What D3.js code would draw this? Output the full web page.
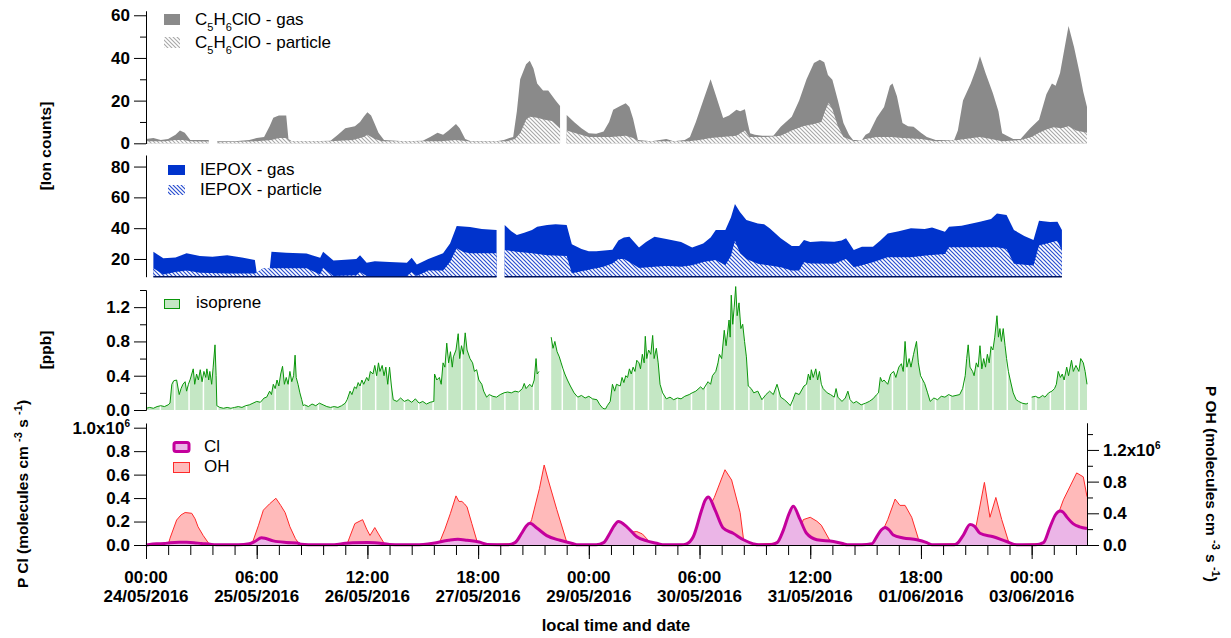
<!DOCTYPE html>
<html><head><meta charset="utf-8">
<script src="https://cdn.jsdelivr.net/npm/d3@7"></script>
<style>
body{margin:0;background:#fff;}
svg{display:block;}
text{font-family:"Liberation Sans",Arial,sans-serif;}
</style></head><body>
<svg id="chart" width="1231" height="638"></svg>
<script>
// ---------------- DATA (hours since 24/05/2016 00:00 local, value) ----------------
const xDomainHours = [0, 255];
const xTickHours = d3.range(0, 253, 6);
const xLabelHours = [0, 30, 60, 90, 120, 150, 180, 210, 240];
const xLabelTimes = ["00:00","06:00","12:00","18:00","00:00","06:00","12:00","18:00","00:00"];
const xLabelDates = ["24/05/2016","25/05/2016","26/05/2016","27/05/2016","29/05/2016","30/05/2016","31/05/2016","01/06/2016","03/06/2016"];

const c5Domain = [0, 62];
const c5Ticks = [0, 20, 40, 60];
const c5Minor = [10, 30, 50];
const c5Gas = [[0,2],[2,2.5],[4,1.5],[6,2],[8,4],[9.2,6],[10.5,5],[12,1.5],[15,1.5],[17,1.5],[18,null],[19.3,1],[24,1],[28,1.5],[30,2.5],[32,3],[33.5,8],[34.5,12],[36,13],[38,13],[38.6,2],[39.5,1],[45,1],[50,1.2],[52,4],[54,7],[56.6,8],[58,10],[59,12.5],[60,14.5],[61,13],[62,9],[63,5],[64.5,1.5],[70,1],[75,1.2],[77,3],[79,5],[80.5,4],[82,6],[84,9],[85,7],[86.5,2],[88,1],[95,1],[97,1.5],[98.5,2.5],[99.5,3],[100.5,15],[101.4,30],[103,37],[104,38.7],[105,35],[106,28],[107.6,24.8],[109,24.8],[111,20],[112.2,17.5],[113,null],[114,13.3],[116,10],[118,7],[120,4.7],[122,4.5],[124,5.5],[125.5,10],[126.6,15.7],[128.5,17.5],[130,18.8],[131,17],[132,11.5],[133.3,1.5],[137,1],[141,2],[143,1],[146,1.5],[147.4,3],[149,10],[151,20],[153,30],[154.5,22],[156.4,11.8],[158,13],[160,15.7],[161,15],[162.3,16],[163,10],[163.7,4.7],[165,4],[167,3.5],[170,3.5],[172,7.8],[175,12.5],[177,20],[179,30],[181,37.6],[182.6,39.2],[183.8,38],[184.8,32],[186,29.8],[187.5,20],[189,9.5],[190.5,4],[191.6,1.5],[194,1.5],[195,4],[196,5],[198,12],[200,17],[201.6,27],[202.3,28],[203.5,22],[205,9.5],[206.5,8],[208,7.8],[210,5],[211.6,3],[214,1.5],[219,1.5],[220,6],[221.4,20],[223.5,28],[225,35],[226,40.8],[227.5,33],[229.5,23.5],[231,15],[232,4.7],[235,2],[237,2],[238.5,5],[239.6,7],[242,11],[244,23],[245.5,28],[246.5,27],[247.7,33],[250,55],[251.5,45],[253,33],[254,24],[255,17]];
const c5Particle = [[0,1],[5,1],[8,1.5],[10,1.5],[12,1],[17,0.8],[18,null],[19.3,0.5],[30,1],[34,1.5],[36,2.5],[38,2.5],[39,1],[50,1],[56,1.5],[59,3],[60,4],[62,2],[64,1],[80,1],[84,1.5],[88,0.8],[98,1],[100,2],[101.5,5],[103,11],[104,12.5],[106,12],[108,11],[110,10.5],[112.2,7],[113,null],[114,6],[116,5],[120,3],[126,3],[130,3.5],[132,2.5],[133.5,1],[147,1],[150,1.5],[153,2.5],[156,3],[160,3.5],[162.3,6],[163.5,3],[168,3],[172,3.5],[175,6],[178,8],[181,9],[183,10],[184,15],[185,19],[186,16],[187.5,8],[189,3],[192,1],[195,2],[198,3],[202,3],[205,2.5],[210,2],[214,1],[220,1.5],[224,2.5],[226,3],[229,2],[232,1],[237,1.5],[240,3],[242,5],[244,6.5],[246,7.5],[248,7],[250,8],[252,6],[255,5]];

const iepoxDomain = [8.5, 87.5];
const iepoxTicks = [20, 40, 60, 80];
const iepoxGas = [[2,24.7],[4.7,20.4],[8,21],[11,23.7],[14.6,22],[18,21.5],[22,22.5],[26,21],[29.5,19.4],[30,11],[31.8,14],[33.5,13],[34,24.7],[38,24],[43.5,23.5],[47.2,20.8],[48,24.7],[50.8,19],[54,19.5],[57,20],[58,22.5],[59.8,17.6],[62,18.5],[66,18],[70.7,17.5],[72,20.8],[73.4,16.5],[76.5,20],[80.5,23.7],[82.4,30],[84.2,41.4],[87.8,40.7],[91,39.5],[95,38.8],[96,null],[97.2,42],[99,38],[100.5,35.6],[102.5,37],[104.6,38.8],[106,40.9],[108.7,42],[111,42.5],[114,42],[115.4,29.5],[118,26.5],[120,25],[122,25],[126.4,26],[128,32],[129.5,34],[131,34.5],[133.6,27.5],[135.5,31],[137.8,34.5],[141,33],[145,31],[148,27.5],[151,30],[153,34],[154.4,38.8],[157,38.8],[158.5,47],[159.6,55.7],[161,50.4],[162.7,45.3],[165.8,43.1],[167.5,42.5],[169,39.9],[172,33.4],[175,28.4],[177,28.4],[178.3,32.3],[180,31],[183,31.5],[186.5,31.2],[188.5,32],[189.7,33.4],[191.8,25.8],[194,28],[197,27.9],[199,32],[201,36.6],[204,38],[207.3,39.9],[211,39.5],[213,40.5],[216.5,37.7],[217.6,41],[221,41.5],[226,44.2],[229,46],[230.6,49.6],[233.2,48.5],[235.2,38.8],[238,35],[240.5,32.3],[242,44.8],[245,44],[247,44.2],[248.2,38.8]];
const iepoxParticle = [[2,14],[4.7,10],[8,11.5],[11,12.5],[14.6,11],[22,10.5],[29.5,10.5],[30,11],[31.8,14],[34,14],[38,14],[43.5,14],[47.2,10],[48,14.3],[50.8,9],[57,9.5],[58,11.5],[59.8,9],[64,9],[70.7,9],[72,11.5],[73.4,9],[76.5,12.5],[80.5,12.5],[82.4,18],[84.2,27],[86,24.5],[87.8,23.7],[95,23.7],[96,null],[97.2,25.8],[100.5,24.7],[104.6,23.8],[108.7,22.5],[114,22],[115.4,10.7],[118,12],[120,13],[124,15],[126.4,17],[128,20],[129.5,20],[131,18],[133.6,14.2],[137.8,15],[141,15.5],[145,15],[148,16],[151,18],[154.4,19.3],[157,16],[158.5,22],[159.6,31.9],[161,23.8],[162.7,20],[165.8,16.9],[169,15.8],[172,14.7],[175,12.5],[177,12.5],[178.3,17.9],[180,17],[186.5,16.9],[189.7,20],[191.8,14.7],[194,16],[197,17.9],[201,21.1],[207.3,21.1],[212,22.5],[216.5,23.3],[217.6,27.6],[226,27.6],[230.6,27.6],[233.2,26.5],[235.2,16.9],[240.5,15.8],[242,28.7],[247,31.9],[248.2,25.4]];

const isoDomain = [0, 1.4];
const isoTicks = [0, 0.4, 0.8, 1.2];
const isoMinor = [0.2, 0.6, 1.0, 1.4];
const isoprene = [[0,0.02],[1,0.03],[2,0.02],[3,0.04],[4,0.05],[5,0.04],[6,0.06],[6.5,0.08],[7,0.3],[7.5,0.34],[8.3,0.35],[9,0.18],[9.5,0.25],[10,0.3],[10.6,0.33],[11,0.22],[11.5,0.3],[12,0.36],[12.8,0.48],[13.2,0.3],[13.7,0.42],[14.2,0.35],[14.7,0.47],[15.2,0.33],[15.7,0.45],[16.2,0.38],[16.5,0.48],[17,0.35],[17.3,0.45],[17.8,0.3],[18.2,0.5],[18.7,0.76],[19,0.4],[19.2,0.05],[20,0.03],[21,0.02],[22,0.03],[23,0.02],[24,0.03],[25,0.04],[26,0.03],[27,0.05],[28,0.06],[29,0.08],[30,0.1],[31,0.09],[32,0.14],[32.7,0.15],[33.5,0.22],[34,0.18],[34.5,0.3],[35,0.25],[35.5,0.35],[36,0.28],[36.5,0.42],[37,0.51],[37.5,0.3],[38,0.38],[38.5,0.3],[39,0.45],[39.5,0.33],[40,0.4],[40.4,0.64],[40.7,0.38],[41.2,0.3],[41.7,0.2],[42.2,0.12],[42.6,0.05],[43,0.06],[44,0.04],[45,0.07],[46,0.05],[47,0.08],[48,0.06],[49,0.04],[50,0.03],[51,0.04],[52,0.03],[53,0.05],[54,0.08],[54.5,0.12],[55.3,0.22],[55.8,0.18],[56.5,0.27],[57,0.25],[57.5,0.32],[58,0.28],[58.5,0.35],[59,0.3],[59.8,0.38],[60.3,0.34],[60.8,0.45],[61.5,0.42],[62,0.52],[62.5,0.4],[63,0.55],[63.4,0.45],[64,0.52],[64.5,0.4],[65,0.5],[65.5,0.3],[66,0.5],[66.5,0.28],[67,0.12],[68,0.1],[69,0.14],[70,0.1],[71,0.12],[72,0.09],[73,0.13],[74,0.08],[75,0.1],[76,0.07],[77,0.09],[78,0.1],[78.2,0.42],[78.8,0.35],[79.5,0.38],[80,0.3],[80.5,0.55],[81,0.5],[81.5,0.78],[82,0.55],[82.5,0.68],[83,0.5],[83.3,0.62],[84,0.7],[84.6,0.89],[85,0.6],[85.5,0.75],[86,0.65],[86.5,0.9],[87,0.7],[87.8,0.6],[88.5,0.55],[89,0.45],[89.6,0.47],[90.2,0.35],[91,0.3],[91.5,0.22],[92.3,0.15],[93,0.18],[94,0.16],[95,0.15],[96,0.18],[97,0.2],[98,0.21],[99,0.2],[100,0.22],[101,0.21],[102,0.25],[102.5,0.31],[103,0.25],[104,0.3],[104.6,0.27],[105.2,0.35],[105.7,0.6],[106,0.42],[106.5,0.45],[107,null],[109.8,0.85],[110.3,0.72],[110.8,0.8],[111.4,0.68],[112,0.62],[112.5,0.55],[113,0.48],[113.5,0.42],[114.2,0.35],[115,0.28],[116,0.2],[117,0.15],[118,0.17],[119,0.14],[120,0.16],[121,0.13],[122.2,0.12],[123,0.06],[123.8,0.02],[124.5,0.01],[125,0.05],[125.8,0.1],[126.4,0.3],[127,0.22],[127.5,0.3],[128.5,0.28],[129,0.38],[129.5,0.32],[130,0.4],[130.5,0.38],[131,0.48],[131.5,0.42],[132,0.5],[132.5,0.45],[133,0.58],[133.6,0.55],[134,0.48],[134.5,0.65],[135,0.55],[135.3,0.86],[135.7,0.6],[136.2,0.7],[136.8,0.65],[137.3,0.87],[137.7,0.6],[138.3,0.72],[138.8,0.55],[139.3,0.3],[140,0.2],[141,0.13],[142,0.15],[143,0.12],[144,0.14],[145,0.13],[146,0.16],[147.2,0.18],[148,0.2],[149,0.22],[150.3,0.27],[151,0.24],[152.3,0.33],[153,0.3],[153.5,0.4],[154.4,0.45],[155,0.55],[155.4,0.65],[156,0.6],[156.7,0.93],[157.2,0.75],[158,1.05],[158.3,0.85],[158.6,1.34],[159,1.0],[159.4,1.2],[159.8,1.44],[160.2,1.1],[160.7,1.25],[161.2,0.95],[161.7,1.0],[162.2,0.8],[162.7,0.62],[163.2,0.28],[164,0.25],[164.7,0.2],[165.8,0.22],[166.9,0.12],[168,0.18],[169,0.22],[170,0.18],[171,0.3],[172,0.15],[173,0.12],[174,0.08],[174.6,0.05],[175.3,0.12],[176,0.2],[177,0.18],[178.3,0.28],[179,0.3],[179.5,0.42],[180,0.35],[180.3,0.47],[180.8,0.38],[181.5,0.48],[182,0.35],[182.5,0.45],[183,0.3],[183.5,0.25],[184.6,0.2],[185.5,0.18],[186.5,0.15],[187,0.25],[187.5,0.15],[188.6,0.1],[189.5,0.14],[190.2,0.22],[190.8,0.12],[191.7,0.08],[192.5,0.1],[193.8,0.06],[195,0.08],[196,0.1],[197,0.13],[198,0.18],[198.5,0.2],[199,0.38],[199.5,0.33],[200,0.35],[201,0.3],[201.8,0.42],[202.6,0.45],[203.2,0.38],[204,0.5],[204.7,0.54],[205.2,0.45],[205.7,0.8],[206.2,0.5],[206.8,0.6],[207.3,0.5],[208,0.65],[208.8,0.8],[209.3,0.55],[209.9,0.4],[210.5,0.35],[211,0.31],[211.8,0.2],[212.5,0.1],[213.5,0.14],[214.5,0.12],[215.5,0.16],[216.5,0.15],[217.5,0.18],[218.5,0.16],[219.5,0.17],[220.5,0.18],[221.3,0.25],[222,0.4],[222.4,0.6],[222.8,0.76],[223.3,0.5],[224,0.45],[224.4,0.4],[225,0.55],[225.5,0.5],[226,0.75],[226.5,0.48],[227,0.6],[227.5,0.5],[228,0.65],[228.5,0.55],[229,0.74],[229.5,0.7],[230,0.85],[230.6,1.1],[231,0.85],[231.4,0.95],[231.8,0.8],[232.3,0.95],[232.8,0.75],[233.2,0.6],[233.7,0.45],[234.2,0.35],[235,0.2],[235.8,0.12],[236.5,0.1],[237.4,0.08],[238.5,0.07],[239,0.08],[239.4,null],[240,0.15],[241,0.16],[242,0.14],[243,0.17],[243.6,0.15],[244.6,0.2],[245.5,0.22],[246.2,0.25],[246.7,0.3],[247.2,0.45],[247.8,0.38],[248.3,0.42],[248.8,0.35],[249.5,0.5],[250,0.4],[250.8,0.58],[251.3,0.45],[252,0.52],[252.8,0.45],[253.3,0.6],[254,0.55],[254.5,0.45],[255,0.3]];

// production rates, units of 1e6 molecules cm-3 s-1
const clDomain = [0, 1.04];
const clTicks = [0, 0.2, 0.4, 0.6, 0.8, 1.0];
const clTickLabels = ["0.0","0.2","0.4","0.6","0.8","1.0x10"];
const ohDomain = [0, 1.54];
const ohTicks = [0, 0.4, 0.8, 1.2];
const ohMinor = [0.2, 0.6, 1.0, 1.4];
const ohTickLabels = ["0.0","0.4","0.8","1.2x10"];
const pCl = [[0,0],[1,0.005],[3,0.01],[5,0.012],[6.5,0.02],[9,0.023],[11,0.023],[13,0.02],[15,0.012],[17,0.008],[19,0.002],[25,0.002],[28,0.01],[29.5,0.03],[31.3,0.062],[32.5,0.055],[34.5,0.035],[38,0.022],[41,0.018],[42,0.006],[44,0.002],[51,0.002],[54,0.015],[56,0.02],[60,0.022],[62,0.02],[66,0.005],[69,0.002],[73,0.002],[77.8,0.015],[82,0.04],[84.5,0.048],[87,0.04],[90.3,0.025],[92.5,0.005],[98,0.002],[100,0.02],[101.8,0.1],[103,0.16],[104,0.185],[105.9,0.145],[108.6,0.08],[112.2,0.04],[115.8,0.01],[117,0.002],[122,0.002],[124,0.02],[125.7,0.1],[126.8,0.16],[128,0.2],[130.3,0.155],[133,0.07],[135.7,0.035],[138.4,0.015],[140,0.002],[145,0.002],[146.5,0.01],[148.3,0.07],[150.6,0.3],[151.5,0.38],[152.4,0.41],[154.2,0.3],[156.4,0.145],[159.1,0.1],[161.9,0.045],[164.6,0.01],[166,0.002],[169,0.002],[171,0.02],[172.7,0.125],[174.3,0.27],[175.4,0.33],[177.2,0.22],[179,0.1],[181.8,0.045],[186.3,0.03],[189,0.01],[190,0.002],[194,0.002],[196.7,0.01],[198,0.07],[199.3,0.13],[200.3,0.15],[201.3,0.13],[202.5,0.085],[205.2,0.06],[208.9,0.045],[211.6,0.02],[213,0.002],[219,0.002],[219.7,0.01],[221.5,0.085],[223.3,0.175],[224.5,0.16],[226,0.1],[229.6,0.07],[233.2,0.03],[236,0.002],[241,0.002],[243.2,0.02],[245,0.155],[246.5,0.26],[247.7,0.29],[248.5,0.28],[249.5,0.24],[251.3,0.18],[253,0.155],[255,0.14]];
const pOH = [[0,0],[6,0],[6.5,0.085],[8.3,0.315],[9.5,0.38],[10.6,0.41],[12.4,0.4],[13.3,0.33],[14.1,0.23],[15.5,0.12],[17.3,0],[27.7,0],[29,0.05],[30.5,0.25],[31.8,0.44],[33.5,0.52],[35.2,0.59],[36.5,0.5],[37.7,0.41],[39,0.23],[40.5,0.08],[41.7,0],[54.4,0],[55.2,0.1],[56.6,0.27],[58.7,0.32],[59.8,0.2],[60.7,0.12],[62,0.22],[63,0.14],[64.8,0],[78.8,0],[79.7,0.05],[81,0.2],[82.5,0.4],[84,0.62],[84.8,0.55],[85.6,0.55],[86.3,0.52],[87,0.48],[88.3,0.27],[90,0],[101.4,0.02],[102.5,0.1],[104.5,0.32],[106.6,0.71],[107.9,1.01],[109,0.82],[111.3,0.45],[114,0.04],[114.5,0],[130,0],[131.2,0.16],[133,0.17],[134.5,0.14],[135.7,0.08],[136.8,0],[147.4,0.01],[150,0.27],[152,0.42],[154,0.6],[156.9,0.95],[158.7,0.82],[161,0.41],[161.9,0.08],[162.5,0],[176.3,0.04],[178.1,0.32],[180,0.35],[181.8,0.3],[183,0.25],[185.4,0.05],[186,0],[198,0.01],[201,0.32],[203,0.58],[204.3,0.5],[205.7,0.5],[207.5,0.35],[209.3,0.08],[210,0],[221.5,0.02],[225,0.25],[227.2,0.79],[228.7,0.35],[230.3,0.6],[231.9,0.32],[233.7,0.05],[234.3,0],[244,0.02],[246.8,0.34],[248.6,0.57],[252.2,0.91],[254,0.86],[255,0.61]];

// ---------------- DRAWING ----------------
const svg = d3.select("#chart");
const T0 = Date.UTC(2016, 4, 24, 0, 0);
const toDate = h => new Date(T0 + h * 3600000);

const X0 = 146, X1 = 1087;
const x = d3.scaleUtc().domain(xDomainHours.map(toDate)).range([X0, X1]);

const y1 = d3.scaleLinear().domain(c5Domain).range([143.3, 11]);
const y2 = d3.scaleLinear().domain(iepoxDomain).range([276.7, 155]);
const y3 = d3.scaleLinear().domain(isoDomain).range([410, 290]);
const y4L = d3.scaleLinear().domain(clDomain).range([545, 423]);
const y4R = d3.scaleLinear().domain(ohDomain).range([545, 423]);

// patterns
const defs = svg.append("defs");
function hatch(id, color, w) {
  const p = defs.append("pattern").attr("id", id).attr("patternUnits", "userSpaceOnUse")
    .attr("width", 4).attr("height", 4);
  p.append("rect").attr("width", 4).attr("height", 4).attr("fill", "#fff");
  p.append("path").attr("d", "M-1,-1L5,5M-1,3L1,5M3,-1L5,1")
    .attr("stroke", color).attr("stroke-width", w).attr("fill", "none");
}
hatch("hGray", "#a8a8a8", 1.1);
hatch("hBlue", "#2a4fd0", 1.2);

const px = d => x(toDate(d[0]));
const def = d => d[1] != null;
function area(ys, base) {
  return d3.area().defined(def).x(px).y0(ys(base)).y1(d => ys(d[1]));
}
function line(ys) {
  return d3.line().defined(def).x(px).y(d => ys(d[1]));
}

// Panel 1
svg.append("path").attr("d", area(y1, 0)(c5Gas)).attr("fill", "#8a8a8a");
svg.append("path").attr("d", area(y1, 0)(c5Particle)).attr("fill", "url(#hGray)");

// Panel 2
svg.append("path").attr("d", area(y2, iepoxDomain[0])(iepoxGas)).attr("fill", "#0033cc");
svg.append("path").attr("d", area(y2, iepoxDomain[0])(iepoxParticle)).attr("fill", "url(#hBlue)");
svg.append("path").attr("d", d3.line().defined(def).x(px).y(y2(iepoxDomain[0]))(iepoxGas))
  .attr("stroke", "#00135a").attr("stroke-width", 1.5).attr("fill", "none");

// Panel 3
const isoArea = area(y3, 0)(isoprene);
defs.append("clipPath").attr("id", "isoClip").append("path").attr("d", isoArea);
svg.append("path").attr("d", isoArea).attr("fill", "#c4e7c4");
const stripeEvery = 3.89;
svg.append("g").attr("clip-path", "url(#isoClip)")
  .selectAll("line").data(d3.range(0, xDomainHours[1], stripeEvery)).join("line")
  .attr("x1", h => x(toDate(h))).attr("x2", h => x(toDate(h)))
  .attr("y1", y3(isoDomain[0])).attr("y2", y3(isoDomain[1]))
  .attr("stroke", "#fff").attr("stroke-width", 1.5);
svg.append("path").attr("d", line(y3)(isoprene)).attr("fill", "none")
  .attr("stroke", "#0a960a").attr("stroke-width", 1);

// Panel 4
svg.append("path").attr("d", area(y4R, 0)(pOH)).attr("fill", "#ffbaba");
svg.append("path").attr("d", line(y4R)(pOH)).attr("fill", "none").attr("stroke", "#ff2a2a").attr("stroke-width", 1);
const clCurve = d3.curveMonotoneX;
svg.append("path").attr("d", area(y4L, 0).curve(clCurve)(pCl)).attr("fill", "#ebb5e7");
svg.append("path").attr("d", line(y4L).curve(clCurve)(pCl)).attr("fill", "none")
  .attr("stroke", "#c4009c").attr("stroke-width", 3).attr("stroke-linejoin", "round");

// ---------------- AXES ----------------
const tickFont = 17;
function styleAxis(g) {
  g.selectAll("path.domain").attr("stroke", "#000").attr("stroke-width", 1);
  g.selectAll(".tick line").attr("stroke", "#000").attr("stroke-width", 1);
  g.selectAll(".tick text").attr("fill", "#000").attr("font-weight", "bold")
    .attr("font-size", tickFont).attr("font-family", '"Liberation Sans",Arial,sans-serif');
}
function yAxis(scale, xpos, major, labels, minor, right) {
  const fn = right ? d3.axisRight : d3.axisLeft;
  const g = svg.append("g").attr("transform", `translate(${xpos},0)`);
  if (minor && minor.length) {
    g.append("g").call(fn(scale).tickValues(minor).tickSize(6).tickSizeOuter(0).tickFormat("")).call(styleAxis);
  }
  const gm = g.append("g").call(fn(scale).tickValues(major).tickSize(12).tickSizeOuter(0).tickPadding(4)
    .tickFormat((d, i) => labels[i])).call(styleAxis);
  return gm;
}
yAxis(y1, X0, c5Ticks, c5Ticks.map(String), c5Minor);
yAxis(y2, X0, iepoxTicks, iepoxTicks.map(String), []);
yAxis(y3, X0, isoTicks, isoTicks.map(d => d.toFixed(1)), isoMinor);
const gL = yAxis(y4L, X0, clTicks, clTickLabels, []);
const gR = yAxis(y4R, X1, ohTicks, ohTickLabels, ohMinor, true);
[gL, gR].forEach(g => {
  g.selectAll(".tick text").filter(function () { return d3.select(this).text().includes("x10"); })
    .append("tspan").attr("dy", -7).attr("font-size", 10).text("6");
});

// x axis
const gx = svg.append("g").attr("transform", `translate(0,545)`);
gx.append("g").call(d3.axisBottom(x).tickValues(xTickHours.map(toDate)).tickSize(10).tickSizeOuter(0).tickFormat("")).call(styleAxis);
gx.append("g").call(d3.axisBottom(x).tickValues(xLabelHours.map(toDate)).tickSize(14).tickSizeOuter(0).tickFormat("")).call(styleAxis);
svg.append("g").selectAll("text").data(xLabelHours).join("text")
  .attr("x", h => x(toDate(h))).attr("y", 583).attr("text-anchor", "middle")
  .attr("font-weight", "bold").attr("font-size", tickFont).text((h, i) => xLabelTimes[i]);
svg.append("g").selectAll("text").data(xLabelHours).join("text")
  .attr("x", h => x(toDate(h))).attr("y", 602).attr("text-anchor", "middle")
  .attr("font-weight", "bold").attr("font-size", tickFont).text((h, i) => xLabelDates[i]);

// ---------------- TITLES ----------------
const titleFont = 15.5;
function vText(xp, yp, rot) {
  return svg.append("text").attr("transform", `translate(${xp},${yp}) rotate(${rot})`)
    .attr("text-anchor", "middle").attr("font-weight", "bold").attr("font-size", titleFont);
}
vText(51, 146, -90).text("[Ion counts]");
vText(51, 350, -90).text("[ppb]");
function unitsLabel(t, prefix) {
  t.append("tspan").text(prefix + " (molecules cm ");
  t.append("tspan").attr("baseline-shift", "super").attr("font-size", 11).text("-3");
  t.append("tspan").text(" s ");
  t.append("tspan").attr("baseline-shift", "super").attr("font-size", 11).text("-1");
  t.append("tspan").text(")");
}
unitsLabel(vText(28, 494, -90), "P Cl");
unitsLabel(vText(1206, 484, 90), "P OH");
svg.append("text").attr("x", 616).attr("y", 631).attr("text-anchor", "middle")
  .attr("font-weight", "bold").attr("font-size", 16.5).text("local time and date");

// ---------------- LEGENDS ----------------
const legFont = 17;
function chemLabel(t, suffix) {
  t.append("tspan").text("C");
  t.append("tspan").attr("baseline-shift", "sub").attr("font-size", 11).text("5");
  t.append("tspan").text("H");
  t.append("tspan").attr("baseline-shift", "sub").attr("font-size", 11).text("6");
  t.append("tspan").text("ClO - " + suffix);
}
function legText(xp, yp) {
  return svg.append("text").attr("x", xp).attr("y", yp).attr("font-size", legFont).attr("fill", "#000");
}
svg.append("rect").attr("x", 164).attr("y", 14).attr("width", 16).attr("height", 11).attr("fill", "#8a8a8a");
svg.append("rect").attr("x", 164).attr("y", 37).attr("width", 16).attr("height", 11).attr("fill", "url(#hGray)");
chemLabel(legText(195, 25), "gas");
chemLabel(legText(195, 48), "particle");

svg.append("rect").attr("x", 168).attr("y", 165).attr("width", 17).attr("height", 10).attr("fill", "#0033cc");
svg.append("rect").attr("x", 168).attr("y", 185).attr("width", 17).attr("height", 10).attr("fill", "url(#hBlue)");
legText(200, 175).text("IEPOX - gas");
legText(200, 195).text("IEPOX - particle");

svg.append("rect").attr("x", 164.5).attr("y", 299.5).attr("width", 15).attr("height", 9).attr("fill", "#c4e7c4")
  .attr("stroke", "#0a960a").attr("stroke-width", 1);
legText(196, 308).text("isoprene");

svg.append("rect").attr("x", 174).attr("y", 442.5).attr("width", 15).attr("height", 9).attr("rx", 2)
  .attr("fill", "#ebb5e7").attr("stroke", "#c4009c").attr("stroke-width", 3);
svg.append("rect").attr("x", 173.5).attr("y", 462.5).attr("width", 16).attr("height", 10)
  .attr("fill", "#ffbaba").attr("stroke", "#ff2a2a").attr("stroke-width", 1);
legText(204, 452).text("Cl");
legText(204, 472).text("OH");
</script>
</body></html>
